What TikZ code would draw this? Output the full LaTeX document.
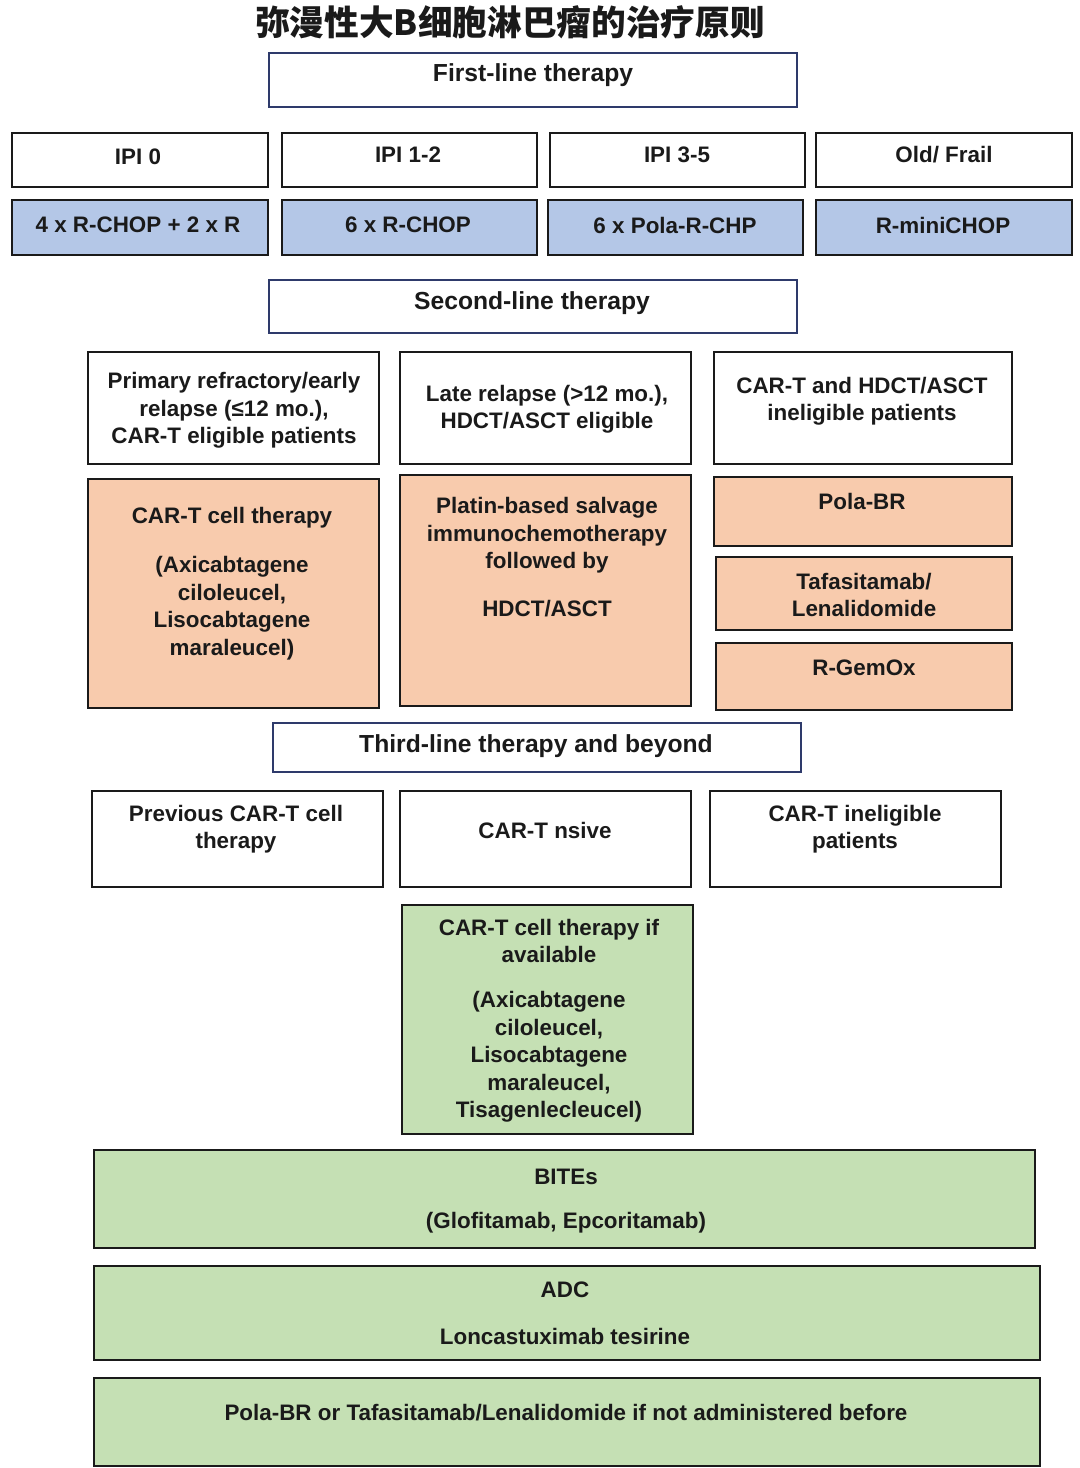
\documentclass[tikz,border=0pt]{standalone}
\usepackage{fontspec}
\setmainfont{Liberation Sans}
\newfontfamily\cjk{Noto Sans CJK SC}
\usetikzlibrary{fit}
\definecolor{navy}{HTML}{2E3A6B}
\definecolor{blueF}{HTML}{B4C7E7}
\definecolor{salmonF}{HTML}{F8CBAD}
\definecolor{greenF}{HTML}{C5E0B4}
\definecolor{ink}{HTML}{1A1A1A}
\tikzset{
  box/.style={draw=ink, line width=1.6pt, inner sep=0pt},
  hdr/.style={draw=navy, line width=1.6pt, inner sep=0pt},
  bluebox/.style={box, fill=blueF},
  salbox/.style={box, fill=salmonF},
  grnbox/.style={box, fill=greenF},
  txt/.style={font=\bfseries\fontsize{16.8}{20.6}\selectfont, align=center, inner sep=0pt, text=ink, yshift=-1.5pt},
  htxt/.style={font=\bfseries\fontsize{18.5}{22}\selectfont, align=center, inner sep=0pt, text=ink, yshift=-1.2pt},
}
\newcommand\mkbox[6]{\node[#1, fit={(#3,#4) (#5,#6)}] (#2) {};}
\begin{document}
\begin{tikzpicture}[x=0.75pt,y=-0.75pt]
\useasboundingbox[fill=white] (0,0) rectangle (1080,1468);

\node[font=\cjk\bfseries\fontsize{26}{32}\selectfont, inner sep=0pt, text=ink] (title) at (510,22) {弥漫性大B细胞淋巴瘤的治疗原则};

% First line
\mkbox{hdr}{h1}{269}{53}{797}{107}
\node[htxt] (th1) at (533,74) {First-line therapy};

\mkbox{box}{ipi0}{12}{133}{268}{187}
\mkbox{box}{ipi12}{282}{133}{537}{187}
\mkbox{box}{ipi35}{550}{133}{805}{187}
\mkbox{box}{old}{816}{133}{1072}{187}
\node[txt] (tipi0) at (138,155) {IPI 0};
\node[txt] (tipi12) at (408,153) {IPI 1-2};
\node[txt] (tipi35) at (677,153) {IPI 3-5};
\node[txt] (told) at (944,153) {Old/ Frail};

\mkbox{bluebox}{b1}{12}{200}{268}{255}
\mkbox{bluebox}{b2}{282}{200}{537}{255}
\mkbox{bluebox}{b3}{548}{200}{803}{255}
\mkbox{bluebox}{b4}{816}{200}{1072}{255}
\node[txt] (tb1) at (138,223) {4 x R-CHOP + 2 x R};
\node[txt] (tb2) at (408,223) {6 x R-CHOP};
\node[txt] (tb3) at (675,223) {6 x Pola-R-CHP};
\node[txt] (tb4) at (943,223) {R-miniCHOP};

% Second line
\mkbox{hdr}{h2}{269}{280}{797}{333}
\node[htxt] (th2) at (532,302) {Second-line therapy};

\mkbox{box}{s1}{88}{352}{379}{464}
\mkbox{box}{s2}{400}{352}{691}{464}
\mkbox{box}{s3}{714}{352}{1012}{464}
\node[txt] (ts1) at (234,408.5) {Primary refractory/early\\relapse (≤12 mo.),\\CAR-T eligible patients};
\node[txt] (ts2) at (547,407.5) {Late relapse (>12 mo.),\\HDCT/ASCT eligible};
\node[txt] (ts3) at (862,399) {CAR-T and HDCT/ASCT\\ineligible patients};

\mkbox{salbox}{r1}{88}{479}{379}{708}
\mkbox{salbox}{r2}{400}{475}{691}{706}
\mkbox{salbox}{r3a}{714}{477}{1012}{546}
\mkbox{salbox}{r3b}{716}{557}{1012}{630}
\mkbox{salbox}{r3c}{716}{643}{1012}{710}
\node[txt] (tr1a) at (232,516) {CAR-T cell therapy};
\node[txt] (tr1b) at (232,606) {(Axicabtagene\\ciloleucel,\\Lisocabtagene\\maraleucel)};
\node[txt] (tr2a) at (547,533.5) {Platin-based salvage\\immunochemotherapy\\followed by};
\node[txt] (tr2b) at (547,607) {HDCT/ASCT};
\node[txt] (tr3a) at (862,499) {Pola-BR};
\node[txt] (tr3b) at (864,593) {Tafasitamab/\\Lenalidomide};
\node[txt] (tr3c) at (864,666) {R-GemOx};

% Third line
\mkbox{hdr}{h3}{273}{723}{801}{772}
\node[htxt] (th3) at (536,745) {Third-line therapy and beyond};

\mkbox{box}{u1}{92}{791}{383}{887}
\mkbox{box}{u2}{400}{791}{691}{887}
\mkbox{box}{u3}{710}{791}{1001}{887}
\node[txt] (tu1) at (236,827) {Previous CAR-T cell\\therapy};
\node[txt] (tu2) at (545,828) {CAR-T nsive};
\node[txt] (tu3) at (855,827) {CAR-T ineligible\\patients};

\mkbox{grnbox}{g1}{402}{905}{693}{1134}
\node[txt] (tg1a) at (549,939) {CAR-T cell therapy if\\available};
\node[txt] (tg1b) at (549,1055) {(Axicabtagene\\ciloleucel,\\Lisocabtagene\\maraleucel,\\Tisagenlecleucel)};

\mkbox{grnbox}{g2}{94}{1150}{1035}{1248}
\node[txt] (tg2a) at (566,1175) {BITEs};
\node[txt] (tg2b) at (566,1221) {(Glofitamab, Epcoritamab)};

\mkbox{grnbox}{g3}{94}{1266}{1040}{1360}
\node[txt] (tg3a) at (565,1288) {ADC};
\node[txt] (tg3b) at (565,1334) {Loncastuximab tesirine};

\mkbox{grnbox}{g4}{94}{1378}{1040}{1466}
\node[txt] (tg4) at (566,1411) {Pola-BR or Tafasitamab/Lenalidomide if not administered before};
\end{tikzpicture}
\end{document}
